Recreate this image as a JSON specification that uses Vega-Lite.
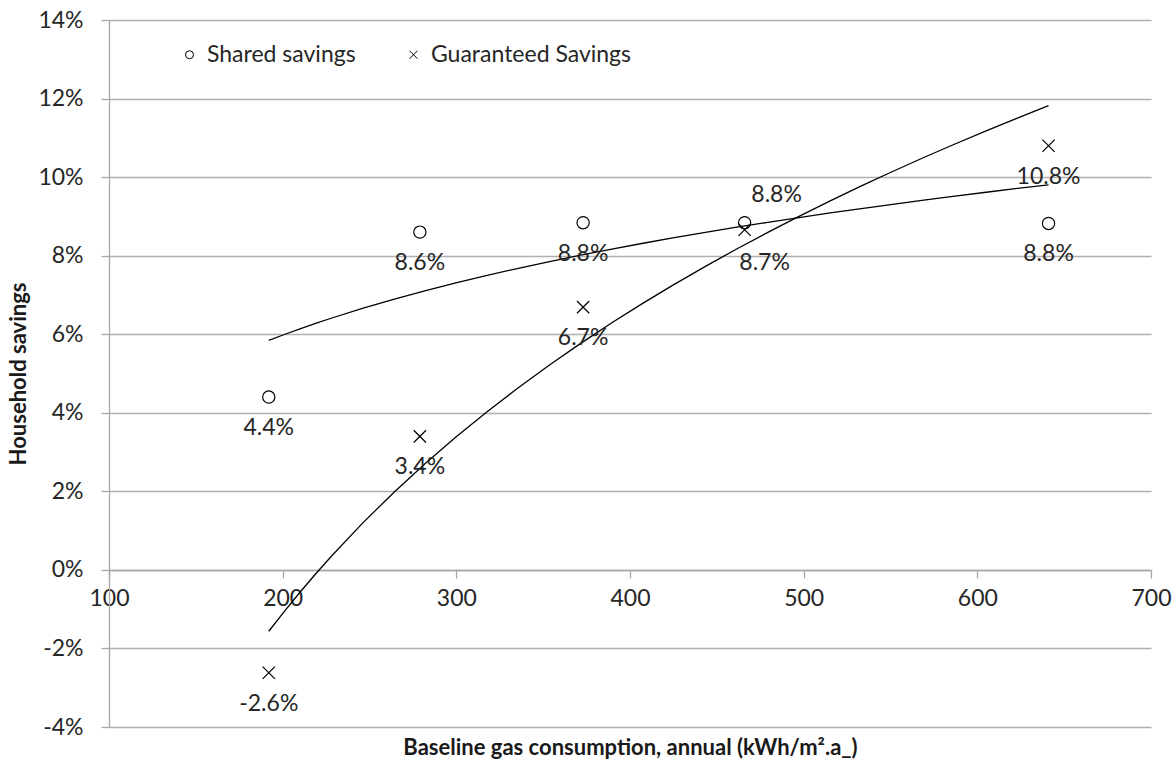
{
  "$schema": "https://vega.github.io/schema/vega-lite/v6.json",
  "width": 1042,
  "height": 707,
  "autosize": "none",
  "padding": {"left": 109, "top": 20, "right": 25, "bottom": 37},
  "background": "white",
  "config": {
    "font": "Lato",
    "view": {"stroke": null}
  },
  "data": {
    "values": [
      {"series": "Shared savings", "x": 192, "y": 4.4, "label": "4.4%"},
      {"series": "Shared savings", "x": 279, "y": 8.6, "label": "8.6%"},
      {"series": "Shared savings", "x": 373, "y": 8.84, "label": "8.8%"},
      {"series": "Shared savings", "x": 466, "y": 8.84, "label": "8.8%"},
      {"series": "Shared savings", "x": 641, "y": 8.82, "label": "8.8%"},
      {"series": "Guaranteed Savings", "x": 192, "y": -2.62, "label": "-2.6%"},
      {"series": "Guaranteed Savings", "x": 279, "y": 3.4, "label": "3.4%"},
      {"series": "Guaranteed Savings", "x": 373, "y": 6.69, "label": "6.7%"},
      {"series": "Guaranteed Savings", "x": 466, "y": 8.66, "label": "8.7%"},
      {"series": "Guaranteed Savings", "x": 641, "y": 10.8, "label": "10.8%"}
    ]
  },
  "encoding": {
    "x": {
      "field": "x",
      "type": "quantitative",
      "scale": {"domain": [100, 700], "nice": false, "zero": false},
      "axis": {
        "title": "Baseline gas consumption, annual (kWh/m².a_)",
        "values": [100, 200, 300, 400, 500, 600, 700],
        "grid": false,
        "offset": -157,
        "domainColor": "#a6a6a6",
        "domainWidth": 1.3,
        "tickColor": "#a6a6a6",
        "tickSize": 8,
        "tickWidth": 1.3,
        "labelFontSize": 23,
        "labelColor": "#262626",
        "labelPadding": 9,
        "labelFlush": false,
        "titleFontSize": 22,
        "titleFontWeight": "bold",
        "titleColor": "#1a1a1a",
        "titleBaseline": "middle",
        "titleY": 177
      }
    },
    "y": {
      "field": "y",
      "type": "quantitative",
      "scale": {"domain": [-4, 14], "nice": false, "zero": false},
      "axis": {
        "title": "Household savings",
        "values": [-4, -2, 0, 2, 4, 6, 8, 10, 12, 14],
        "labelExpr": "datum.value + '%'",
        "grid": true,
        "gridColor": "#b0b0b0",
        "gridWidth": 1.3,
        "domainColor": "#a6a6a6",
        "domainWidth": 1.3,
        "tickColor": "#a6a6a6",
        "tickSize": 8,
        "tickWidth": 1.3,
        "labelFontSize": 23,
        "labelColor": "#262626",
        "labelPadding": 18,
        "labelFlush": false,
        "titleFontSize": 22,
        "titleFontWeight": "bold",
        "titleColor": "#1a1a1a",
        "titleBaseline": "middle",
        "titleX": -91
      }
    }
  },
  "layer": [
    {
      "transform": [
        {"regression": "y", "on": "x", "method": "log", "groupby": ["series"]}
      ],
      "mark": {"type": "line", "color": "black", "strokeWidth": 1.3},
      "encoding": {"detail": {"field": "series"}}
    },
    {
      "mark": {"type": "point", "filled": false, "color": "black", "strokeWidth": 1.2, "size": 150, "opacity": 1},
      "encoding": {
        "shape": {
          "field": "series",
          "type": "nominal",
          "scale": {
            "domain": ["Shared savings", "Guaranteed Savings"],
            "range": ["circle", "M-1,-1L1,1M-1,1L1,-1"]
          },
          "legend": {
            "title": null,
            "orient": "none",
            "direction": "horizontal",
            "legendX": 69,
            "legendY": 23,
            "padding": 0,
            "symbolSize": 64,
            "symbolStrokeColor": "black",
            "symbolFillColor": "transparent",
            "symbolStrokeWidth": 1,
            "labelFontSize": 23,
            "labelColor": "#262626",
            "labelOffset": 6,
            "columnPadding": 46,
            "labelLimit": 400
          }
        }
      }
    },
    {
      "transform": [{"filter": "datum.x != 466"}],
      "mark": {"type": "text", "fontSize": 23, "color": "#262626", "baseline": "middle", "align": "center", "dy": 31},
      "encoding": {"text": {"field": "label"}}
    },
    {
      "transform": [{"filter": "datum.x == 466 && datum.series == 'Shared savings'"}],
      "mark": {"type": "text", "fontSize": 23, "color": "#262626", "baseline": "middle", "align": "center", "dy": -28, "dx": 32},
      "encoding": {"text": {"field": "label"}}
    },
    {
      "transform": [{"filter": "datum.x == 466 && datum.series == 'Guaranteed Savings'"}],
      "mark": {"type": "text", "fontSize": 23, "color": "#262626", "baseline": "middle", "align": "center", "dy": 33, "dx": 20},
      "encoding": {"text": {"field": "label"}}
    }
  ]
}
